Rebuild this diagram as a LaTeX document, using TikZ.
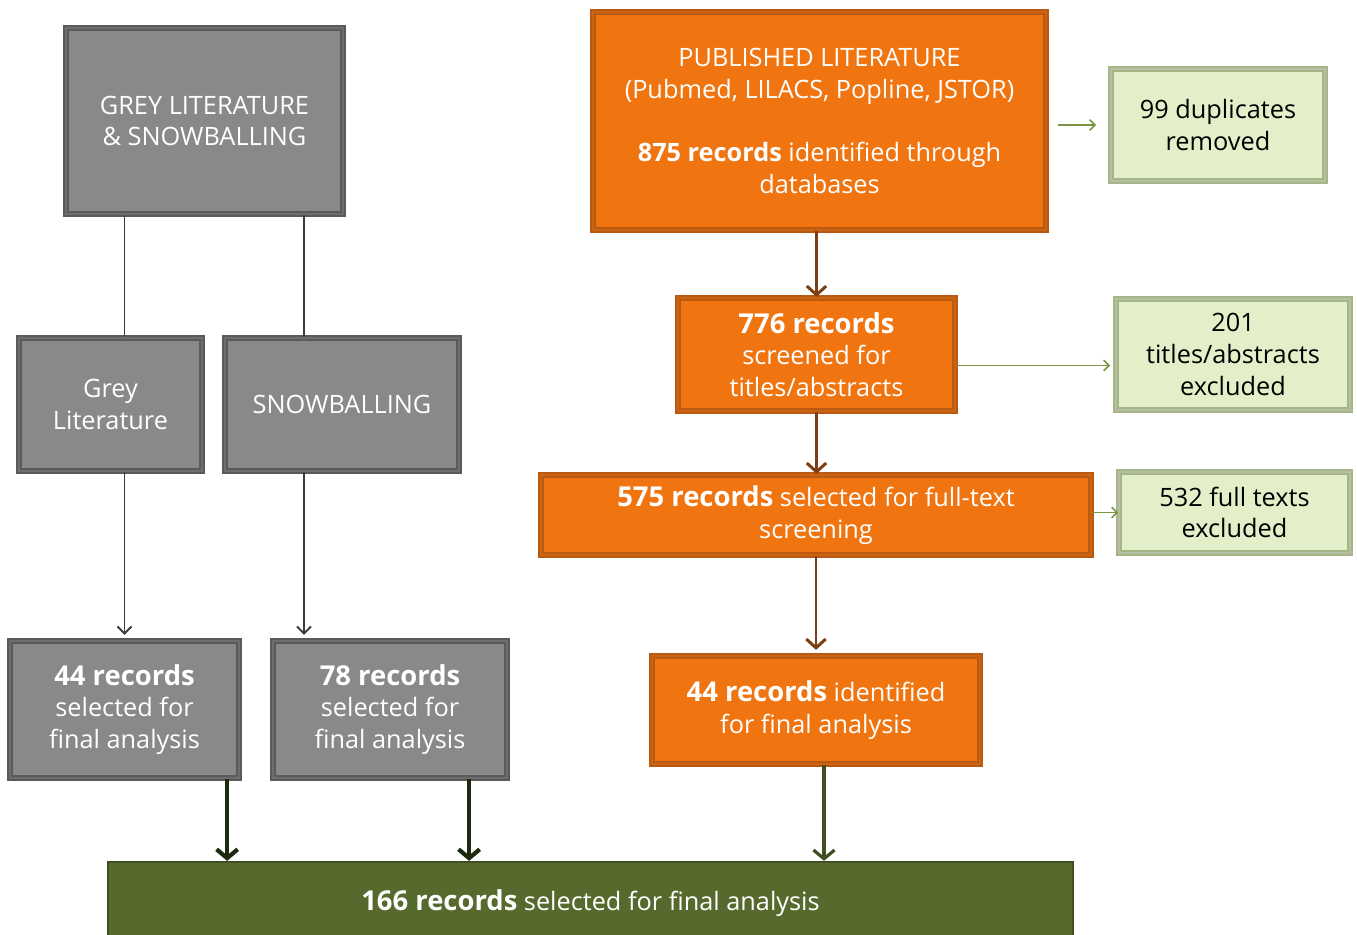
\documentclass[tikz,border=0pt]{standalone}
\usepackage{fontspec}
\setmainfont{Open Sans}
\usepackage{tikz}
\usetikzlibrary{arrows.meta, positioning, calc}
\definecolor{boxgrey}{HTML}{898989}
\definecolor{greyedge}{HTML}{5A5A5A}
\definecolor{pubor}{HTML}{F07511}
\definecolor{oredge}{HTML}{B85A14}
\definecolor{limefill}{HTML}{E3EFC9}
\definecolor{limeedge}{HTML}{A5B586}
\definecolor{totgreen}{HTML}{576A2E}
\definecolor{totedge}{HTML}{3F4F1F}
\definecolor{brownline}{HTML}{7E3E14}
\definecolor{darkgreen}{HTML}{1C2A0E}
\definecolor{limeline}{HTML}{7A9443}
\definecolor{greyline}{HTML}{3C3C3C}
\newcommand{\recs}[1]{{\bfseries\fontsize{15.6}{18}\selectfont #1}}

\begin{document}
\begin{tikzpicture}[
  x=0.02cm, y=-0.02cm,
  every node/.style={align=center, inner sep=0pt, font=\fontsize{14.4}{18}\selectfont},
  greybox/.style={fill=boxgrey, draw=greyedge, line width=1.3pt, double=boxgrey!80!black, double distance=0.9pt, text=white},
  orbox/.style={fill=pubor, draw=oredge, line width=1.3pt, double=pubor!85!black, double distance=0.9pt, text=white},
  limebox/.style={fill=limefill, draw=limeedge, line width=1.1pt, double=limefill!80!black, double distance=0.8pt, text=black},
  totbox/.style={fill=totgreen, draw=totedge, line width=1.3pt, text=white},
  plainline/.style={draw=greyline, line width=1.1pt},
  greyarrow/.style={plainline, -{Straight Barb[length=4pt, width=8pt]}},
  brownarrow/.style={draw=brownline, line width=1.7pt, -{Straight Barb[length=5pt, width=11pt]}},
  totarrow/.style={draw=darkgreen, line width=2.4pt, -{Straight Barb[length=5pt, width=12pt]}},
  limearrow/.style={draw=limeline, line width=0.9pt, -{Straight Barb[length=3pt, width=6pt]}}
]
\clip (0,0) rectangle (1357,935);

% grey literature side
\node[greybox, minimum width=5.54cm, minimum height=3.72cm] (grey) at (204.5,121) {GREY LITERATURE\\\& SNOWBALLING};
\node[greybox, minimum width=3.66cm, minimum height=2.66cm] (greylit) at (110.5,404.5) {Grey\\Literature};
\node[greybox, minimum width=4.68cm, minimum height=2.66cm] (snow) at (342,404.5) {SNOWBALLING};
\node[greybox, minimum width=4.58cm, minimum height=2.74cm] (rec44) at (124.5,709.5) {\recs{44 records}\\selected for\\final analysis};
\node[greybox, minimum width=4.68cm, minimum height=2.74cm] (rec78) at (390,709.5) {\recs{78 records}\\selected for\\final analysis};

% published literature side
\node[orbox, minimum width=9.06cm, minimum height=4.36cm] (pub) at (819.5,121) {PUBLISHED LITERATURE\\(Pubmed, LILACS, Popline, JSTOR)\\[18pt]{\bfseries 875 records} identified through\\databases};
\node[limebox, minimum width=4.28cm, minimum height=2.24cm] (dup) at (1218,125) {99 duplicates\\removed};
\node[orbox, minimum width=5.54cm, minimum height=2.26cm] (scr) at (816.5,354.5) {\recs{776 records}\\screened for\\titles/abstracts};
\node[limebox, minimum width=4.68cm, minimum height=2.22cm] (exc) at (1233,354.5) {201\\titles/abstracts\\excluded};
\node[orbox, minimum width=11cm, minimum height=1.6cm] (full) at (816,515) {\recs{575 records} selected for full-text\\screening};
\node[limebox, minimum width=4.62cm, minimum height=1.62cm] (ftx) at (1234.5,512.5) {532 full texts\\excluded};
\node[orbox, minimum width=6.56cm, minimum height=2.16cm] (fin) at (816,710) {\recs{44 records} identified\\for final analysis};

% total
\node[totbox, minimum width=19.3cm, minimum height=1.66cm] (total) at (590.5,903.5) {\recs{166 records} selected for final analysis};

% grey connectors
\coordinate (sbx) at (304,0);
\draw[plainline] (grey.south -| rec44) -- (greylit.north -| rec44);
\draw[plainline] (grey.south -| sbx) -- (snow.north -| sbx);
\draw[greyarrow] (greylit.south -| rec44) -- ([yshift=0.1cm]rec44.north);
\draw[greyarrow] (snow.south -| sbx) -- ([yshift=0.1cm]rec44.north -| sbx);

% into the total
\path ([xshift=-0.26cm]rec44.south east) coordinate (r44d);
\path ([xshift=-0.78cm]rec78.south east) coordinate (r78d);
\path ([xshift=0.16cm]fin.south) coordinate (find);
\draw[totarrow] (r44d) -- (r44d |- total.north);
\draw[totarrow] (r78d) -- (r78d |- total.north);
\draw[totarrow, draw=totedge, line width=1.8pt] (find) -- (find |- total.north);

% published chain
\draw[brownarrow] (pub.south -| scr.north) -- (scr.north);
\draw[brownarrow] (scr.south) -- (full.north -| scr.south);
\draw[brownarrow] (full.south) -- ([yshift=0.1cm]fin.north);

% exclusions
\draw[limearrow, shorten <=0.22cm, shorten >=0.28cm] (pub.east |- dup.west) -- (dup.west);
\draw[limearrow, shorten >=0.1cm] ([yshift=-0.22cm]scr.east) -- ([yshift=-0.22cm]exc.west);
\draw[limearrow] (full.east |- ftx.west) -- (ftx.west);
\end{tikzpicture}
\end{document}
